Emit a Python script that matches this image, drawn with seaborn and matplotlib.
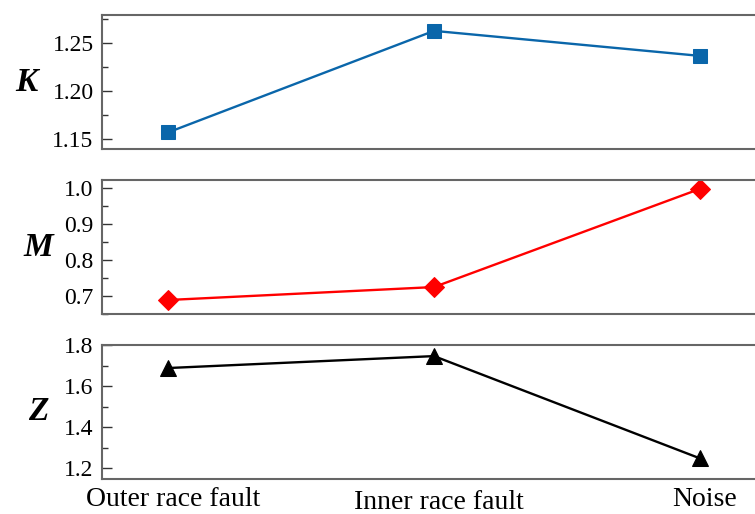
import matplotlib
matplotlib.use("Agg")
import matplotlib.pyplot as plt
import matplotlib.transforms as mtransforms
import seaborn as sns
import pandas as pd
from matplotlib.ticker import MultipleLocator

categories = ["Outer race fault", "Inner race fault", "Noise"]
k_values = [1.157, 1.2625, 1.2365]
m_values = [0.689, 0.725, 0.998]
z_values = [1.688, 1.746, 1.249]

sns.set_theme(style="white")
plt.rcParams['font.family'] = ['Liberation Serif', 'DejaVu Serif']
plt.rcParams['text.color'] = 'black'
plt.rcParams['axes.labelcolor'] = 'black'
plt.rcParams['xtick.color'] = 'black'
plt.rcParams['ytick.color'] = 'black'

fig = plt.figure(figsize=(7.55, 5.14), dpi=100)
W, H = 755, 514
left_px, right_px = 102, 766
panels = [(15, 149), (180, 314), (345, 479)]

specs = [
    ("K", k_values, "#0a66aa", "s", (1.1396, 1.279), 0.05, 0.025, "{:.2f}", 10.5),
    ("M", m_values, "#ff0000", "D", (0.65, 1.023), 0.1, 0.05, "{:.1f}", 10.5),
    ("Z", z_values, "#000000", "^", (1.148, 1.80), 0.2, 0.1, "{:.1f}", 11),
]

df_x = list(range(len(categories)))
axes = []
for (top, bot), (lab, vals, col, mk, ylim, major, minor, fmt, ms) in zip(panels, specs):
    ax = fig.add_axes([left_px / W, 1 - bot / H, (right_px - left_px) / W, (bot - top) / H])
    df = pd.DataFrame({"x": df_x, "y": vals})
    sns.lineplot(data=df, x="x", y="y", ax=ax, color=col, marker=mk, markersize=ms,
                 markeredgecolor=col, linewidth=1.7)
    ax.set_xlim(-0.25, 2.25)
    ax.set_ylim(*ylim)
    ax.yaxis.set_major_locator(MultipleLocator(major))
    ax.yaxis.set_minor_locator(MultipleLocator(minor))
    ax.yaxis.set_major_formatter(matplotlib.ticker.FuncFormatter(lambda v, p, f=fmt: f.format(v)))
    ax.tick_params(axis="y", which="major", direction="in", length=7, width=1, color="#333333",
                   labelcolor="black", labelsize=17, left=True, pad=6)
    ax.tick_params(axis="y", which="minor", direction="in", length=4, width=1, color="#333333", left=True)
    ax.set_xticks(df_x)
    ax.tick_params(axis="x", length=0, labelcolor="black")
    ax.set_xlabel("")
    ax.set_ylabel(lab, fontsize=24, fontweight="bold", fontstyle="italic", rotation=0,
                  labelpad=19, va="center", color="black")
    for s in ax.spines.values():
        s.set_color("#666666")
        s.set_linewidth(1.5)
    axes.append(ax)

for ax in axes[:-1]:
    ax.set_xticklabels([])
axes[-1].set_xticklabels(categories, fontsize=20)
axes[-1].tick_params(axis="x", pad=6)
for i, lbl in enumerate(axes[-1].get_xticklabels()):
    dy = -3 if i == 1 else 0
    lbl.set_transform(lbl.get_transform() + mtransforms.ScaledTranslation(5 / 100, dy / 100, fig.dpi_scale_trans))

fig.savefig("out.png", dpi=100)
